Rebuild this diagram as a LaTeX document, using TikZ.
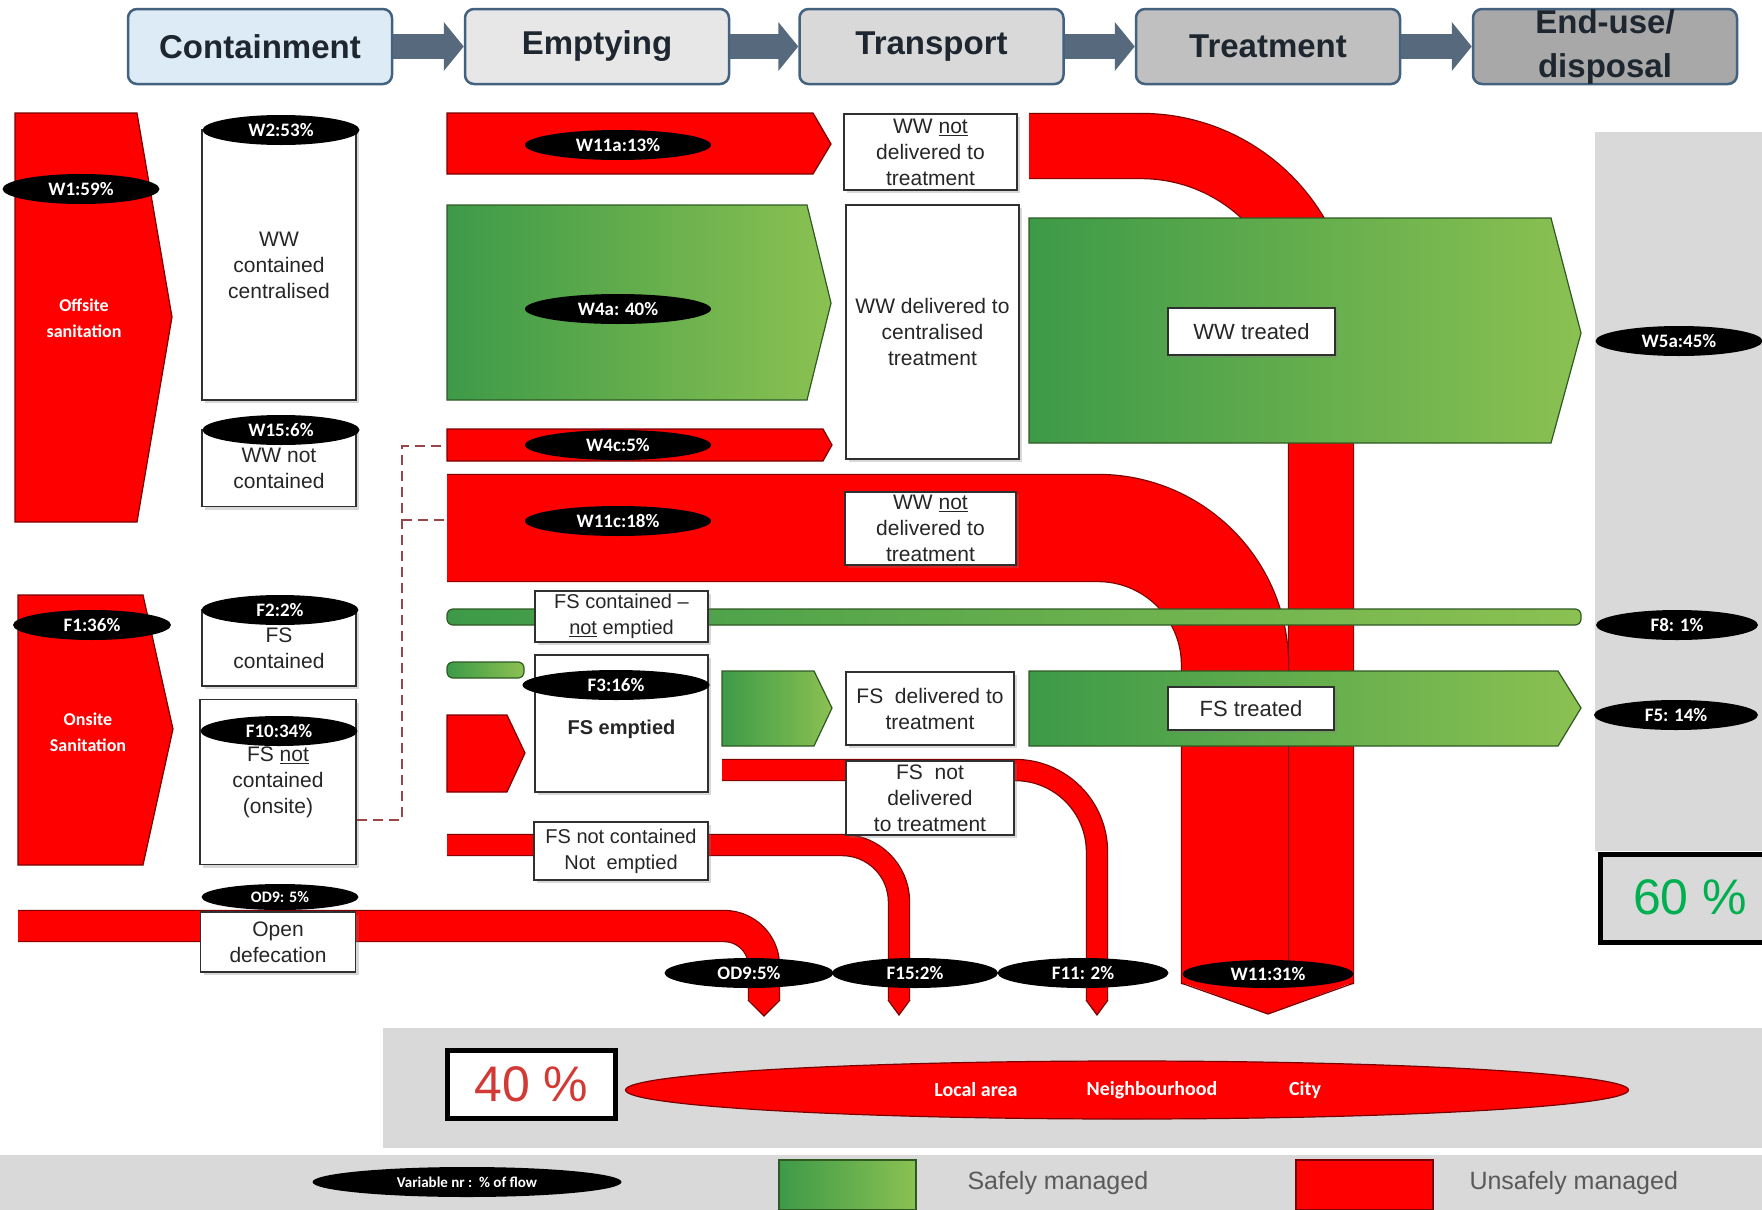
\documentclass[tikz,border=0pt]{standalone}
\usepackage{fontspec}
\setmainfont{Liberation Sans}
\newfontfamily\calfont{Carlito}
\usetikzlibrary{shapes.geometric,arrows.meta,shadows}
\definecolor{rd}{HTML}{FF0000}
\definecolor{rdline}{HTML}{7A0000}
\definecolor{gL}{HTML}{3D9A48}
\definecolor{gR}{HTML}{8BC152}
\definecolor{gline}{HTML}{2F5A22}
\definecolor{panel}{HTML}{D9D9D9}
\definecolor{hdrline}{HTML}{42627F}
\definecolor{harr}{HTML}{56697D}
\definecolor{boxline}{HTML}{303030}
\definecolor{dashc}{HTML}{9A4545}
\definecolor{txtgrey}{HTML}{595959}
\definecolor{pctred}{HTML}{D13A35}
\definecolor{pctgreen}{HTML}{00B050}
\definecolor{hcA}{HTML}{DDEBF7}
\definecolor{hcB}{HTML}{E7E7E8}
\definecolor{hcC}{HTML}{D9D9D9}
\definecolor{hcD}{HTML}{C0C0C0}
\definecolor{hcE}{HTML}{A8A8A8}
\definecolor{hdrtext}{HTML}{1E2630}
\begin{document}
\begin{tikzpicture}[x=1pt,y=-1pt,
  hdr/.style={draw=hdrline, line width=2.5pt, rounded corners=9pt, minimum width=264pt, minimum height=75pt, inner sep=0pt, align=center, text=hdrtext, font=\bfseries\fontsize{33}{44}\selectfont},
  lab/.style={ellipse, fill=black, text=white, inner sep=0pt, minimum height=30pt, font=\calfont\bfseries\fontsize{19}{19}\selectfont},
  wbox/.style={draw=boxline, line width=1.4pt, fill=white, inner sep=0pt, align=center, text=black!85, font=\fontsize{21}{26}\selectfont, drop shadow={shadow xshift=3pt, shadow yshift=-3pt, opacity=0.3}},
  redshape/.style={fill=rd, draw=rdline, line width=1.2pt},
  grnshape/.style={left color=gL, right color=gR, draw=gline, line width=1.2pt},
  band/.style={draw=rdline, line width=1.2pt, double=rd},
  tipedge/.style={draw=rdline, line width=1.2pt},
  legtext/.style={anchor=west, text=txtgrey, font=\fontsize{25}{25}\selectfont},
  areatext/.style={text=white, font=\calfont\bfseries\fontsize{20}{20}\selectfont},
  shapetext/.style={text=white, align=center, font=\calfont\bfseries\fontsize{18}{26}\selectfont},
  pct/.style={font=\fontsize{50}{50}\selectfont},
  dashlink/.style={dashc, line width=2pt, dash pattern=on 10pt off 6pt},
]
\useasboundingbox (0,0) rectangle (1762,1210);
\fill[white] (0,0) rectangle (1762,1210);

% background panels
\fill[panel] (1595,132) rectangle (1762,851);
\fill[panel] (383,1028) rectangle (1762,1148);
\fill[panel] (0,1155) rectangle (1762,1210);

% header
\node[hdr, fill=hcA] (hC) at (260,46.5) {Containment};
\node[hdr, fill=hcB] (hE) at (597,46.5) {Emptying};
\node[hdr, fill=hcC] (hT) at (931.5,46.5) {Transport};
\node[hdr, fill=hcD] (hR) at (1268,46.5) {Treatment};
\node[hdr, fill=hcE] (hD) at (1605,46.5) {End-use/\\disposal};
\foreach \a/\b in {hC/hE,hE/hT,hT/hR,hR/hD}
  \draw[harr, line width=25pt, -{Triangle[width=48pt,length=20pt]}] (\a.east) -- (\b.west);

% containment shapes
\path[redshape] (15,113) -- (137,113) -- (172,317) -- (137,522) -- (15,522) -- cycle;
\node[shapetext] (offt) at (84,318) {Offsite\\sanitation};
\path[redshape] (18,595) -- (143,595) -- (173,729) -- (143,865) -- (18,865) -- cycle;
\node[shapetext] (ont) at (88,732) {Onsite\\Sanitation};

\node[wbox, minimum width=154pt, minimum height=270pt] (wwc) at (279,265) {WW\\contained\\centralised};
\node[wbox, minimum width=154pt, minimum height=77pt] (wwn) at (279,468) {WW not\\contained};
\node[wbox, minimum width=154pt, minimum height=76pt] (fsc) at (279,648) {FS\\contained};
\node[wbox, minimum width=156pt, minimum height=165pt] (fsn) at (278,782) {FS \underline{not}\\contained\\(onsite)};

% dashed link
\coordinate (dA) at (357,820);
\coordinate (dB) at (402,820);
\coordinate (dC) at (402,446);
\coordinate (dD) at (447,446);
\coordinate (dE) at (402,520);
\coordinate (dF) at (447,520);
\draw[dashlink] (dA) -- (dB) -- (dC) -- (dD);
\draw[dashlink] (dE) -- (dF);

% red flow bands
\draw[band, double distance=64pt, rounded corners=180pt] (1029,146) -- (1321,146) -- (1321,984);
\draw[band, double distance=106pt, rounded corners=137pt] (447,528) -- (1235,528) -- (1235,984);
\fill[rd] (1181,982) -- (1354,982) -- (1268,1014) -- cycle;
\draw[tipedge] (1181,983) -- (1268,1014) -- (1354,983);

\draw[band, double distance=20pt, rounded corners=82pt] (722,770) -- (1097,770) -- (1097,1000);
\fill[rd] (1086,999) -- (1108,999) -- (1097,1015) -- cycle;
\draw[tipedge] (1086,1000) -- (1097,1015) -- (1108,1000);

\draw[band, double distance=20pt, rounded corners=57pt] (447,845) -- (899,845) -- (899,1000);
\fill[rd] (888,999) -- (910,999) -- (899,1015) -- cycle;
\draw[tipedge] (888,1000) -- (899,1015) -- (910,1000);

\draw[band, double distance=30pt, rounded corners=40pt] (18,926) -- (764,926) -- (764,1000);
\fill[rd] (748,999) -- (780,999) -- (764,1016) -- cycle;
\draw[tipedge] (748,1000) -- (764,1016) -- (780,1000);

% emptying arrows
\path[redshape] (447,113) -- (813,113) -- (831,144) -- (813,174) -- (447,174) -- cycle;
\path[grnshape] (447,205) -- (807,205) -- (831,303) -- (807,400) -- (447,400) -- cycle;
\path[redshape] (447,429) -- (823,429) -- (832,445) -- (823,461) -- (447,461) -- cycle;
\path[grnshape, rounded corners=6pt] (447,662) rectangle (524,678);
\path[redshape] (447,715) -- (507,715) -- (525,753) -- (507,792) -- (447,792) -- cycle;
\path[grnshape] (722,671) -- (814,671) -- (832,708) -- (814,746) -- (722,746) -- cycle;

% green treatment flows
\path[grnshape, rounded corners=6pt] (447,609) rectangle (1581,625);
\path[grnshape] (1029,218) -- (1551,218) -- (1581,333) -- (1551,443) -- (1029,443) -- cycle;
\path[grnshape] (1029,671) -- (1558,671) -- (1581,708) -- (1558,746) -- (1029,746) -- cycle;

% transport / emptying boxes
\node[wbox, minimum width=173pt, minimum height=76pt] (tn1) at (930.5,152) {WW \underline{not}\\delivered to\\treatment};
\node[wbox, minimum width=173pt, minimum height=254pt] (td) at (932.5,332) {WW delivered to\\centralised\\treatment};
\node[wbox, minimum width=171pt, minimum height=73pt] (tn2) at (930.5,528.5) {WW \underline{not}\\delivered to\\treatment};
\node[wbox, minimum width=173pt, minimum height=51pt, font=\fontsize{20}{26}\selectfont] (fcne) at (621.5,616.5) {FS contained \textendash\\\underline{not} emptied};
\node[wbox, minimum width=173pt, minimum height=137pt, font=\bfseries\fontsize{20}{26}\selectfont] (fse) at (621.5,723.5) {\\FS emptied};
\node[wbox, minimum width=168pt, minimum height=73pt] (fsd) at (930,708.5) {FS\ \ delivered to\\treatment};
\node[wbox, minimum width=168pt, minimum height=74pt] (fsnd) at (930,798) {FS\ \ not\\delivered\\to treatment};
\node[wbox, minimum width=174pt, minimum height=58pt, font=\fontsize{20}{26}\selectfont] (fsnn) at (621,851) {FS not contained\\Not\ \ emptied};
\node[wbox, minimum width=155pt, minimum height=60pt] (od) at (278,942) {Open\\defecation};

\node[wbox, minimum width=167pt, minimum height=47pt, font=\fontsize{22}{26}\selectfont] (wwt) at (1251.5,331.5) {WW treated};
\node[wbox, minimum width=166pt, minimum height=43pt, font=\fontsize{22}{26}\selectfont] (fst) at (1251,708.5) {FS treated};

% flow labels
\node[lab, minimum width=157pt] (e1) at (81,189) {W1:59\%};
\node[lab, minimum width=157pt] (e2) at (281,130) {W2:53\%};
\node[lab, minimum width=157pt] (e15) at (281,430) {W15:6\%};
\node[lab, minimum width=158pt] (ef1) at (92,625) {F1:36\%};
\node[lab, minimum width=157pt] (ef2) at (280,610) {F2:2\%};
\node[lab, minimum width=157pt] (ef10) at (279,731) {F10:34\%};
\node[lab, minimum width=157pt, minimum height=26pt, font=\calfont\bfseries\fontsize{16}{16}\selectfont] (eod) at (280,897) {OD9: 5\%};
\node[lab, minimum width=186pt] (e11a) at (618,145) {W11a:13\%};
\node[lab, minimum width=186pt] (e4a) at (618,309) {W4a: 40\%};
\node[lab, minimum width=186pt] (e4c) at (618,445) {W4c:5\%};
\node[lab, minimum width=186pt] (e11c) at (618,521) {W11c:18\%};
\node[lab, minimum width=187pt] (ef3) at (616,685) {F3:16\%};
\node[lab, minimum width=167pt] (e5a) at (1679,341) {W5a:45\%};
\node[lab, minimum width=162pt] (ef8) at (1677,625) {F8: 1\%};
\node[lab, minimum width=164pt] (ef5) at (1676,715) {F5: 14\%};
\node[lab, minimum width=169pt] (eod2) at (749,973) {OD9:5\%};
\node[lab, minimum width=166pt] (ef15) at (915,973) {F15:2\%};
\node[lab, minimum width=171pt] (ef11) at (1083,973) {F11: 2\%};
\node[lab, minimum width=171pt, minimum height=28pt] (ew11) at (1268,974) {W11:31\%};

% 60 % box
\node[draw=black, line width=5pt, fill=panel, minimum width=178pt, minimum height=88pt, inner sep=0pt, anchor=north west] (p60box) at (1598,852) {};
\node[pct, text=pctgreen] (p60) at (1690,897) {60 \%};

% 40 % and area
\node[draw=black, line width=5pt, fill=white, minimum width=168pt, minimum height=68pt, inner sep=0pt, pct, text=pctred] (p40) at (531.5,1084.5) {40 \%};
\node[ellipse, fill=rd, draw=rdline, line width=1.2pt, minimum width=1003pt, minimum height=58pt, inner sep=0pt] (area) at (1127,1090) {};
\node[areatext] (la) at (976,1090) {Local area};
\node[areatext] (nb) at (1152,1090) {Neighbourhood};
\node[areatext] (ct) at (1305,1090) {City};

% legend
\node[lab, minimum width=309pt, minimum height=30pt, font=\calfont\bfseries\fontsize{15}{15}\selectfont] (leg) at (467,1182) {Variable nr :\ \ \% of flow};
\path[grnshape] (779,1160) rectangle (916,1210);
\node[legtext] (safe) at (964,1183) {Safely managed};
\path[redshape] (1296,1160) rectangle (1433,1210);
\node[legtext] (unsafe) at (1466,1183) {Unsafely managed};
\end{tikzpicture}
\end{document}
